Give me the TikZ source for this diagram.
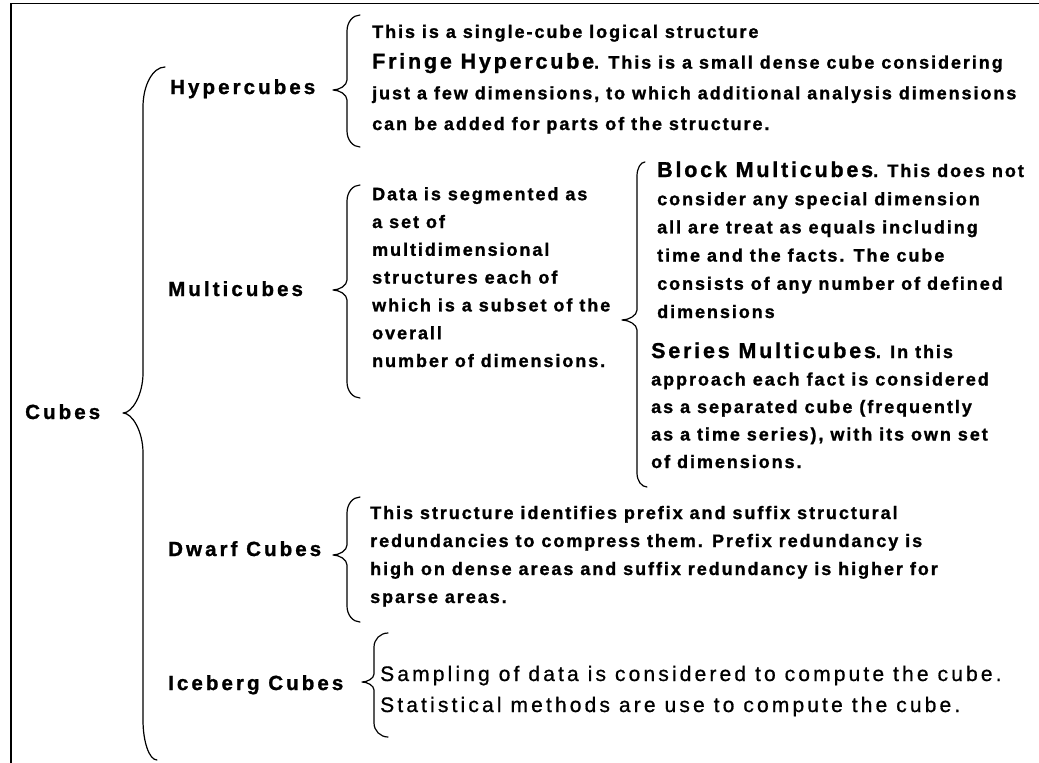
\documentclass[tikz,border=0pt]{standalone}
\usepackage{fontspec}
\setmainfont{Liberation Sans}
\newfontfamily\lblfam{Liberation Sans}[LetterSpace=15, FakeBold=1.2]
\newfontfamily\bodyfam{Liberation Sans}[LetterSpace=10.8, FakeBold=1.2]
\newfontfamily\headfam{Liberation Sans}[LetterSpace=13, FakeBold=1.2]
\newfontfamily\icefam{Liberation Sans}[LetterSpace=15, FakeBold=0.8]
\newcommand\headfont{\headfam\bfseries\fontsize{21.5}{30}\selectfont}
% curly brace: #1 spine x, #2 top end x, #3 bottom end x, #4 tip x,
% #5 top y, #6 tip y, #7 bottom y, #8 end curve length, #9 tip curve length
\newcommand\cbrace[9]{%
  \draw[bracestyle] (#2,#5)
    .. controls ({#1+0.45*(#2-#1)},#5) and (#1,{#5+0.45*#8}) .. (#1,{#5+#8})
    -- (#1,{#6-#9})
    .. controls (#1,{#6-0.45*#9}) and ({#4+0.45*(#1-#4)},#6) .. (#4,#6)
    .. controls ({#4+0.45*(#1-#4)},#6) and (#1,{#6+0.45*#9}) .. (#1,{#6+#9})
    -- (#1,{#7-#8})
    .. controls (#1,{#7-0.45*#8}) and ({#1+0.45*(#3-#1)},#7) .. (#3,#7);}
\tikzset{
  bracestyle/.style={line width=1.2pt, line cap=round, line join=round},
  lbl/.style={anchor=base west, inner sep=0pt, font=\lblfam\bfseries\fontsize{20.5}{24}\selectfont},
  % multi-line nodes: the base anchor is the baseline of the LAST line
  txt/.style={anchor=base west, inner sep=0pt, align=left, font=\bodyfam\bfseries\fontsize{18}{28}\selectfont},
  icetxt/.style={anchor=base west, inner sep=0pt, align=left, font=\icefam\fontsize{21}{31}\selectfont},
}
\begin{document}
\begin{tikzpicture}[x=1pt,y=-1pt]
\clip (0,0) rectangle (1039,763);
\useasboundingbox (0,0) rectangle (1039,763);
\fill[white] (0,0) rectangle (1039,763);
% frame (right and bottom sides fall outside the picture)
\draw[line width=1.5pt] (11,3.5) rectangle (1060,790);

% labels
\node[lbl] (cubes) at (25,419) {Cubes};
\node[lbl] (hyper) at (170,94) {Hypercubes};
\node[lbl] (multi) at (168,296) {Multicubes};
\node[lbl] (dwarf) at (168,556) {Dwarf Cubes};
\node[lbl] (ice) at (168,690) {Iceberg Cubes};

% texts (positioned by the baseline of their last line)
\node[txt, font=\bodyfam\bfseries\fontsize{18}{30.7}\selectfont] (hypertxt) at (372,130)
  {This is a single-cube logical structure\\
   {\headfont Fringe Hypercube}. This is a small dense cube considering\\
   just a few dimensions, to which additional analysis dimensions\\
   can be added for parts of the structure.};
\node[txt, font=\bodyfam\bfseries\fontsize{18}{27.8}\selectfont] (multitxt) at (372,367)
  {Data is segmented as\\
   a set of\\
   multidimensional\\
   structures each of\\
   which is a subset of the\\
   overall\\
   number of dimensions.};
\node[txt, font=\bodyfam\bfseries\fontsize{18}{28.2}\selectfont] (blocktxt) at (657,318)
  {{\headfont Block Multicubes}. This does not\\
   consider any special dimension\\
   all are treat as equals including\\
   time and the facts. The cube\\
   consists of any number of defined\\
   dimensions};
\node[txt, font=\bodyfam\bfseries\fontsize{18}{27.5}\selectfont] (seriestxt) at (651,468)
  {{\headfont Series Multicubes}. In this\\
   approach each fact is considered\\
   as a separated cube (frequently\\
   as a time series), with its own set\\
   of dimensions.};
\node[txt, font=\bodyfam\bfseries\fontsize{18}{28}\selectfont] (dwarftxt) at (370,603)
  {This structure identifies prefix and suffix structural\\
   redundancies to compress them. Prefix redundancy is\\
   high on dense areas and suffix redundancy is higher for\\
   sparse areas.};
\node[icetxt] (icetxt) at (380,712)
  {Sampling of data is considered to compute the cube.\\
   Statistical methods are use to compute the cube.};

% braces
\cbrace{143}{165}{157}{123}{67}{413}{760}{40}{40}
\cbrace{347}{360}{360}{333}{15}{90}{147}{16}{10}
\cbrace{347}{360}{360}{333}{185}{290}{398}{16}{10}
\cbrace{637}{645}{647}{622}{162}{320}{487}{14}{10}
\cbrace{347}{360}{360}{333}{497}{555}{622}{16}{10}
\cbrace{374}{388}{388}{362}{633}{682}{737}{14}{8}
\end{tikzpicture}
\end{document}
